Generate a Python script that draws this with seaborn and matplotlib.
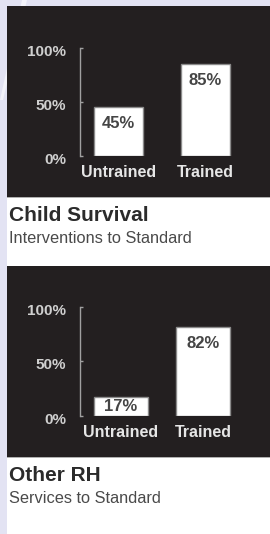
import matplotlib
matplotlib.use('Agg')
import matplotlib.pyplot as plt
import seaborn as sns
from matplotlib.patches import Rectangle, Polygon
from matplotlib.transforms import ScaledTranslation

# ---- data ----
categories = ['Untrained', 'Trained']
child_survival = [45, 85]
other_rh = [17, 82]
tick_values = [0, 50, 100]
tick_labels = ['0%', '50%', '100%']
titles = ['Child Survival', 'Other RH']
subtitles = ['Interventions to Standard', 'Services to Standard']

sns.set_theme(style='white')
plt.rcParams['font.family'] = ['Liberation Sans', 'DejaVu Sans']

W, H = 270, 534
fig = plt.figure(figsize=(W / 100, H / 100), dpi=100)
fig.patch.set_facecolor('white')

LAV = '#e3e3f3'
PANEL = '#231f20'


def fx(px):
    return px / W


def fy(py):
    return 1 - py / H


def frect(x0, y0, x1, y1, **kw):
    fig.patches.append(Rectangle((fx(x0), fy(y1)), fx(x1) - fx(x0), fy(y0) - fy(y1),
                                 transform=fig.transFigure, **kw))


# background decoration
frect(0, 0, W, 6, facecolor=LAV, edgecolor='none', zorder=0)
frect(0, 0, 7, H, facecolor=LAV, edgecolor='none', zorder=0)
fig.patches.append(Polygon([(fx(22), fy(0)), (fx(27), fy(0)), (fx(3), fy(100)), (fx(0), fy(100))],
                           closed=True, transform=fig.transFigure, facecolor='#f4f4fb',
                           edgecolor='none', zorder=0.5))

panels = [
    dict(values=child_survival, top=6, bottom=197, y100=48, y0=155.5, c0=118.5, step=87, width=0.563,
         title_base=221, sub_base=243),
    dict(values=other_rh, top=266, bottom=457, y100=307, y0=415.5, c0=121, step=82, width=0.66,
         title_base=481, sub_base=503),
]

AX_L, AX_R = 80, 260
for i, p in enumerate(panels):
    frect(7, p['top'], W, p['bottom'], facecolor=PANEL, edgecolor='none', zorder=1)
    frect(7, p['bottom'], W, p['bottom'] + 1.2, facecolor='#b0b0b0', edgecolor='none', zorder=1)

    ax = fig.add_axes([fx(AX_L), fy(p['y0']), fx(AX_R) - fx(AX_L), fy(p['y100']) - fy(p['y0'])])
    ax.set_facecolor('none')
    ax.set_zorder(2)
    sns.barplot(x=categories, y=p['values'], ax=ax, color='white', saturation=1,
                edgecolor='#8a8a8a', linewidth=1.0, width=p['width'])
    ax.set_xlim(-(p['c0'] - AX_L) / p['step'], (AX_R - p['c0']) / p['step'])
    ax.set_ylim(0, 100)
    for s in ['top', 'right', 'bottom']:
        ax.spines[s].set_visible(False)
    ax.spines['left'].set_color('#a0a0a0')
    ax.spines['left'].set_linewidth(1.0)
    ax.spines['left'].set_bounds(0, 100)
    ax.set_yticks(tick_values)
    ax.set_yticklabels(tick_labels)
    ax.tick_params(axis='y', direction='in', length=2.5, width=1.0, color='#a0a0a0',
                   pad=10, labelsize=11, labelcolor='#cfcfcf', left=True)
    for lab in ax.get_yticklabels():
        lab.set_fontweight('bold')
        lab.set_transform(lab.get_transform() + ScaledTranslation(0, -2.5 / 100, fig.dpi_scale_trans))
    ax.tick_params(axis='x', length=0, pad=6.5, labelsize=11.5, labelcolor='#e6e6e6')
    for lab in ax.get_xticklabels():
        lab.set_fontweight('bold')
    ax.set_xlabel('')
    ax.set_ylabel('')

    hpx = p['y0'] - p['y100']
    for j, v in enumerate(p['values']):
        bar_px = v / 100 * hpx
        off_px = min(16.5, bar_px / 2)
        ax.annotate(f'{v}%', (j, v), xytext=(0, -off_px * 0.72), textcoords='offset points',
                    ha='center', va='center', fontsize=12, fontweight='bold', color='#454545')

    fig.text(fx(9), fy(p['title_base']), titles[i], ha='left', va='baseline',
             fontsize=15, fontweight='bold', color='#2b2b2b')
    fig.text(fx(9), fy(p['sub_base']), subtitles[i], ha='left', va='baseline',
             fontsize=11.8, color='#4a4a4a')

fig.savefig('out.png', dpi=100, facecolor=fig.get_facecolor())
